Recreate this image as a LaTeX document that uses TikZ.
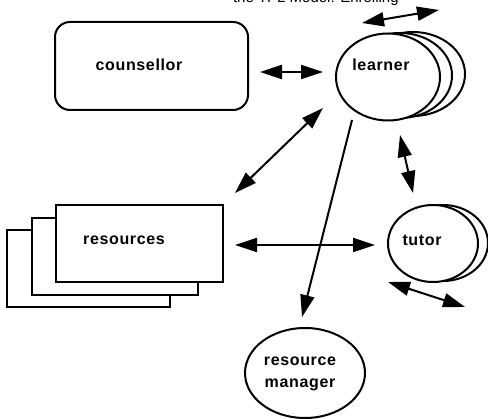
\documentclass[tikz,border=0pt]{standalone}
\usepackage{fontspec}
\setmainfont{Liberation Sans}
\usetikzlibrary{arrows.meta,shapes.geometric}
\begin{document}
\begin{tikzpicture}[x=1pt,y=-1pt,
  line width=2pt,
  lbl/.style={font=\fontsize{16}{22}\selectfont\bfseries\addfontfeatures{LetterSpace=4}, inner sep=0, align=center},
  ell/.style={draw, ellipse, fill=white, inner sep=0},
  boxst/.style={draw, fill=white, inner sep=0},
  arr/.style={-{Triangle[length=22pt,width=14pt]}, line width=2pt},
  darr/.style={{Triangle[length=22pt,width=14pt]}-{Triangle[length=22pt,width=14pt]}, line width=2pt},
]
\useasboundingbox (0,0) rectangle (488,419);
\clip (0,0) rectangle (488,419);

% clipped title
\node[anchor=base west, font=\fontsize{15}{17}\selectfont, inner sep=0] (title) at (232,3) {the TPL Model: Enrolling};

% counsellor
\node[draw, rounded corners=15pt, minimum width=193pt, minimum height=88pt, inner sep=0] (counsellor) at (151.5,66) {};
\node[lbl] (counsellortext) at (139,65) {counsellor};

% learner stack
\node[ell, minimum width=104pt, minimum height=84pt] (learnerc) at (413,74) {};
\node[ell, minimum width=104pt, minimum height=85pt] (learnerb) at (400,75.5) {};
\node[ell, minimum width=104pt, minimum height=87pt] (learner) at (388,77) {};
\node[lbl] (learnertext) at (381,65) {learner};

% tutor stack
\node[ell, minimum width=90pt, minimum height=76pt] (tutorb) at (443,243) {};
\node[ell, minimum width=90pt, minimum height=77pt] (tutor) at (433,243.5) {};
\node[lbl] (tutortext) at (422,240) {tutor};

% resource manager
\node[ell, minimum width=120pt, minimum height=90pt] (manager) at (305,373) {};
\node[lbl] (managertext) at (300,374) {resource\\manager};

% resources stack
\node[boxst, minimum width=163pt, minimum height=77pt] (resc) at (88.5,268.5) {};
\node[boxst, minimum width=166pt, minimum height=77pt] (resb) at (115,256.5) {};
\node[boxst, minimum width=167pt, minimum height=77pt] (resources) at (139.5,243.5) {};
\node[lbl] (resourcestext) at (124,240) {resources};

% arrow end points
\coordinate (cl1) at (260,72);
\coordinate (cl2) at (323,72);
\coordinate (top1) at (362,23);
\coordinate (top2) at (439,10);
\coordinate (lr1) at (323,108);
\coordinate (lr2) at (235,193);
\coordinate (lm1) at (352,120);
\coordinate (lm2) at (302,317);
\coordinate (lt1) at (400,135);
\coordinate (lt2) at (413,193);
\coordinate (rt1) at (235,245);
\coordinate (rt2) at (375,245);
\coordinate (tb1) at (388,282);
\coordinate (tb2) at (465,307);

\draw[darr] (cl1) -- (cl2);
\draw[darr] (top1) -- (top2);
\draw[darr] (lr1) -- (lr2);
\draw[arr] (lm1) -- (lm2);
\draw[darr] (lt1) -- (lt2);
\draw[darr] (rt1) -- (rt2);
\draw[darr] (tb1) -- (tb2);
\end{tikzpicture}
\end{document}
